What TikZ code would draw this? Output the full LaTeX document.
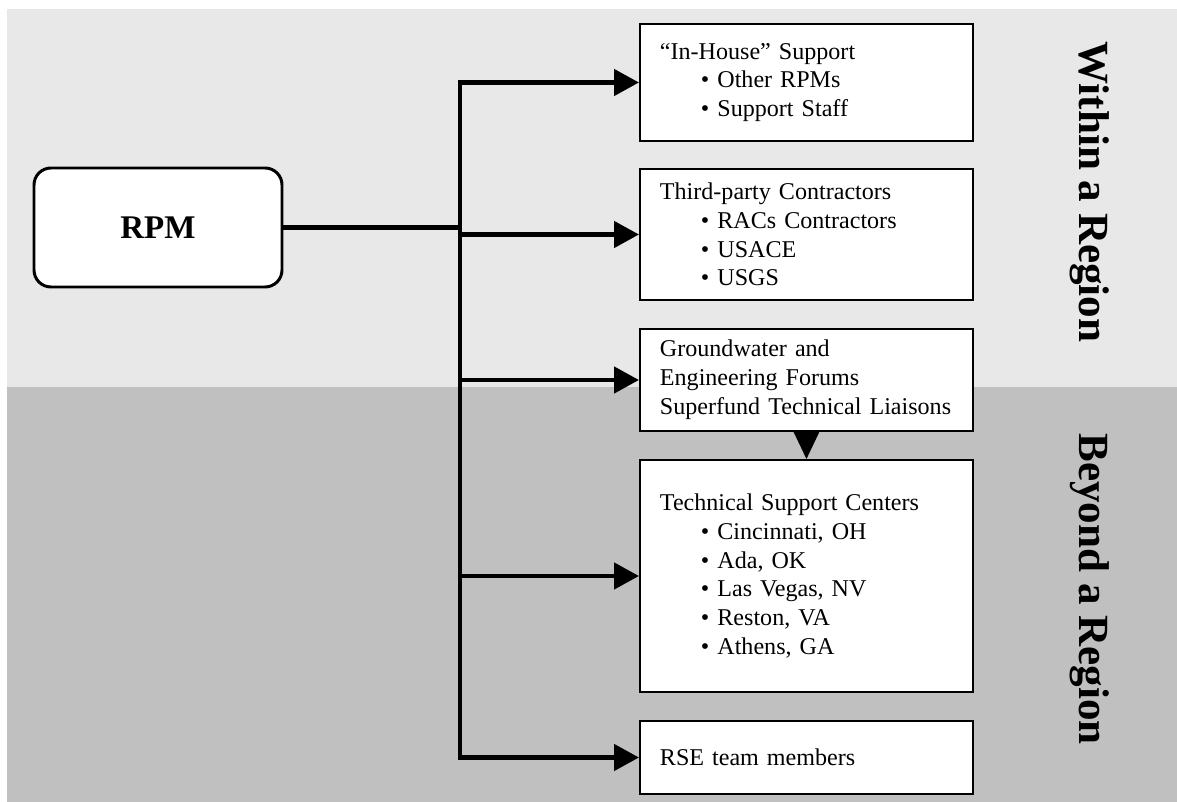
\documentclass[tikz,border=0pt]{standalone}
\usepackage{fontspec}
\setmainfont{Liberation Serif}
\usepackage{tikz, xcolor}
\usetikzlibrary{arrows.meta, positioning}

\definecolor{withinbg}{gray}{0.91}
\definecolor{beyondbg}{gray}{0.753}

% bulleted line inside a box
\newcommand{\bul}[1]{\\\hspace*{.82cm}\textbullet\ #1}

\tikzset{
  infobox/.style={draw, line width=1.1pt, fill=white, anchor=west,
    text width=5.86cm, inner xsep=.4cm, inner ysep=0pt, align=left,
    font=\fontsize{13.7}{16.4}\selectfont},
  link/.style={line width=2.7pt},
  arrow/.style={link, -{Triangle[length=.5cm, width=.52cm]}},
  region/.style={rotate=-90, font=\bfseries\fontsize{24.5}{28}\selectfont},
}

\begin{document}
\begin{tikzpicture}
    \useasboundingbox (0, 0) rectangle (23.54, 16.04);

    % the two bands
    \fill [withinbg] (.14, 8.3) rectangle (23.54, 15.86);
    \fill [beyondbg] (.14, 0) rectangle (23.54, 8.3);

    \node [draw, line width=1.7pt, rounded corners=.34cm, fill=white,
      minimum width=4.96cm, minimum height=2.38cm,
      font=\bfseries\fontsize{18.8}{22}\selectfont] (rpm) at (3.16, 11.49) {RPM};

    \node [infobox, minimum height=2.34cm] (inhouse) at (12.78, 14.39)
      {“In-House” Support\bul{Other RPMs}\bul{Support Staff}};
    \node [infobox, minimum height=2.62cm] (contractors) at (12.78, 11.35)
      {Third-party Contractors\bul{RACs Contractors}\bul{USACE}\bul{USGS}};
    \node [infobox, minimum height=2.04cm] (forums) at (12.78, 8.44)
      {Groundwater and\\Engineering Forums\\Superfund Technical Liaisons};
    \node [infobox, minimum height=4.64cm] (centers) at (12.78, 4.52)
      {Technical Support Centers\bul{Cincinnati, OH}\bul{Ada, OK}\bul{Las Vegas, NV}\bul{Reston, VA}\bul{Athens, GA}};
    \node [infobox, minimum height=1.46cm] (rse) at (12.78, .89)
      {RSE team members};

    \node [region] (within) at (21.8, 12.2) {Within a Region};
    \node [region] (beyond) at (21.8, 4.26) {Beyond a Region};

    \coordinate (spine) at (9.2, 0);
    \draw [link] (rpm) -- (rpm -| spine);
    \draw [link, line cap=rect] (spine |- inhouse.west) -- (spine |- rse.west);

    \foreach \b in {inhouse, contractors, forums, centers, rse}
      \draw [arrow] (spine |- \b.west) -- (\b.west);

    \draw [line width=1.5pt, -{Triangle[length=.54cm, width=.5cm]}] (forums) -- (centers);

  \end{tikzpicture}
\end{document}
